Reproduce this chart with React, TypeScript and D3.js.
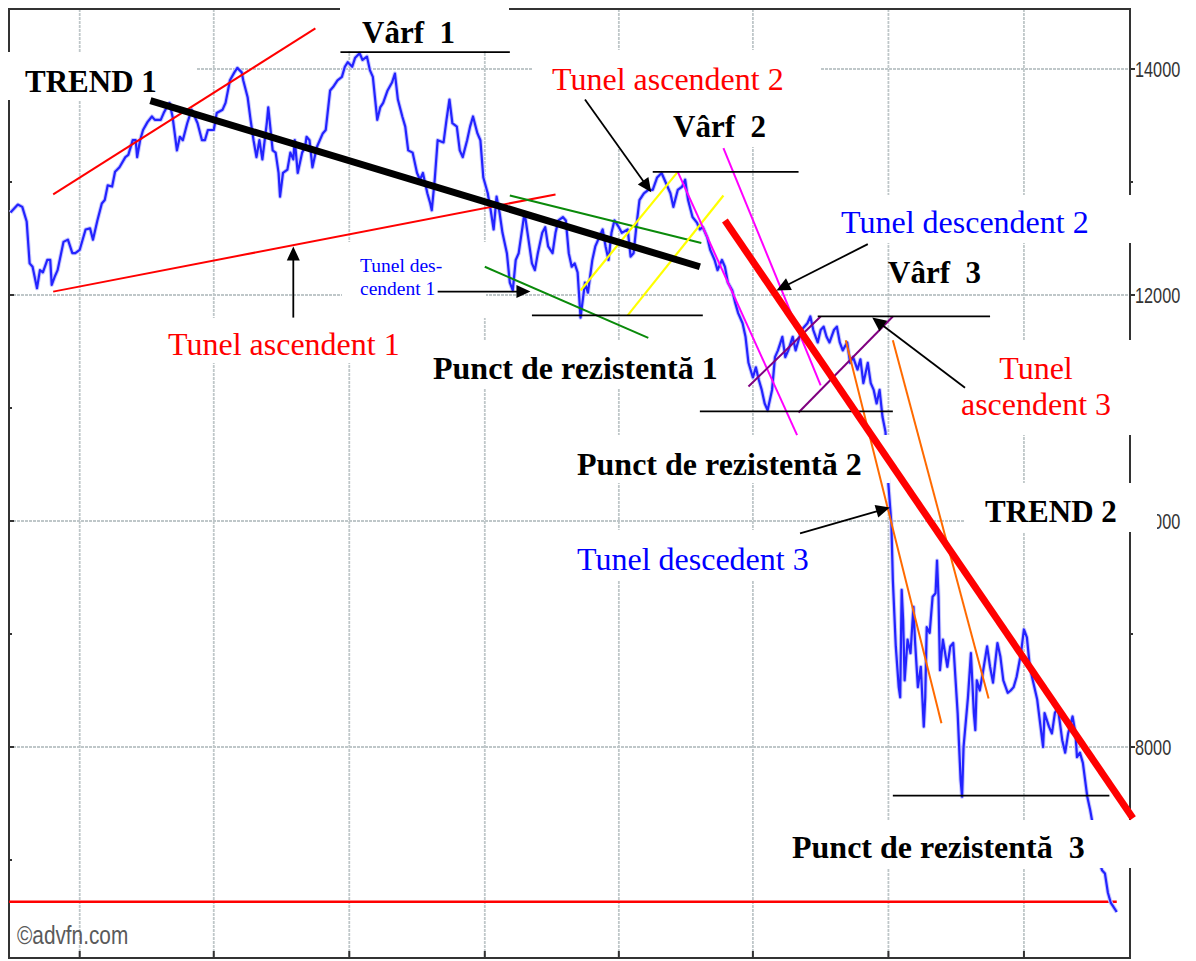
import React from 'react';
import * as d3 from 'd3';

// ---------- DATA ----------
const START = Date.UTC(2007, 1, 12);
const END = Date.UTC(2009, 2, 14);

// [day offset from START, index close]
const closes: [number, number][] = [
  [1,12730],[6,12800],[9,12780],[12,12650],[14,12280],[16,12250],[19,12060],[21,12220],[23,12200],[26,12310],
  [28,12310],[29,12090],[31,12160],[33,12220],[37,12470],[40,12490],[43,12370],[45,12370],[48,12400],[52,12580],
  [55,12590],[57,12490],[60,12660],[63,12810],[65,12840],[67,12970],[70,12960],[72,13090],[75,13130],[79,13220],
  [81,13240],[84,13370],[86,13370],[87,13220],[89,13370],[91,13460],[94,13530],[97,13580],[99,13550],[103,13550],
  [105,13610],[107,13660],[109,13700],[111,13580],[114,13280],[116,13400],[118,13370],[121,13520],[124,13640],[128,13520],
  [131,13370],[133,13370],[135,13460],[139,13460],[141,13610],[145,13640],[147,13700],[150,13900],[153,13970],[155,14010],
  [158,13970],[159,13900],[162,13750],[164,13550],[166,13370],[168,13220],[170,13370],[172,13200],[175,13520],[176,13660],
  [179,13280],[181,13260],[183,13080],[184,12870],[186,13080],[189,13110],[191,13260],[193,13200],[194,13370],[196,13080],
  [199,13260],[201,13310],[202,13400],[204,13370],[206,13130],[209,13310],[213,13430],[215,13460],[218,13810],[220,13840],
  [223,13900],[226,13930],[228,14020],[230,14060],[233,14020],[235,14100],[238,14140],[240,14080],[243,14110],[245,13990],
  [247,13930],[250,13550],[252,13660],[254,13700],[257,13810],[260,13880],[262,13960],[264,13730],[267,13580],[269,13490],
  [271,13280],[274,13260],[277,13080],[279,13020],[281,13080],[284,12900],[286,12810],[287,12750],[289,13020],[291,13370],
  [295,13350],[297,13550],[299,13730],[301,13520],[304,13490],[306,13280],[308,13220],[311,13370],[313,13490],[315,13580],
  [318,13430],[320,13370],[322,13040],[325,12900],[327,12750],[329,12580],[331,12870],[333,12730],[335,12550],[338,12370],
  [340,12110],[342,12040],[344,12310],[346,12370],[348,12550],[350,12730],[352,12550],[355,12280],[357,12220],[359,12370],
  [362,12550],[364,12600],[366,12430],[369,12370],[371,12550],[373,12660],[376,12690],[378,12660],[380,12370],[382,12250],
  [384,12280],[386,12200],[388,11800],[391,12110],[393,12020],[396,12310],[398,12430],[400,12490],[403,12580],[405,12430],
  [407,12310],[409,12550],[411,12660],[414,12600],[416,12550],[420,12580],[422,12340],[424,12370],[426,12620],[428,12840],
  [431,12900],[434,12930],[437,12930],[440,13040],[443,13080],[447,12960],[449,12900],[451,12780],[454,12930],[457,12960],
  [459,13020],[461,12840],[464,12690],[467,12640],[469,12580],[471,12600],[474,12510],[476,12400],[479,12310],[481,12220],
  [484,12310],[486,12250],[488,12110],[491,12040],[493,11930],[495,11840],[498,11750],[500,11630],[502,11400],[505,11270],
  [507,11360],[509,11250],[511,11160],[513,11040],[515,10980],[518,11160],[520,11450],[522,11510],[525,11630],[527,11450],
  [529,11510],[532,11630],[534,11510],[536,11600],[538,11690],[542,11750],[544,11810],[546,11690],[549,11580],[551,11690],
  [553,11720],[555,11630],[557,11580],[560,11690],[562,11720],[564,11580],[566,11510],[569,11580],[571,11400],[573,11450],
  [576,11340],[578,11430],[580,11220],[583,11400],[585,11220],[587,11160],[589,11040],[591,11160],[593,10920],[595,10790],
  [596,10540],[597,10320],[599,9980],[600,9480],[602,8890],[604,8530],[605,8440],[606,9390],[607,9120],[608,8590],
  [610,8950],[612,8830],[614,9240],[615,8950],[617,8530],[619,8710],[621,8180],[622,8440],[623,9060],[625,9010],
  [627,9330],[629,9360],[630,9650],[631,9330],[632,8680],[634,8950],[637,8710],[639,8890],[641,8920],[644,8300],
  [646,7710],[647,7560],[648,8000],[651,8440],[653,8830],[655,8300],[656,8150],[657,8590],[659,8500],[661,8650],
  [664,8890],[666,8710],[668,8570],[671,8920],[673,8800],[675,8590],[678,8480],[680,8500],[682,8530],[684,8620],
  [687,8830],[689,9040],[691,8970],[693,8710],[695,8590],[698,8420],[700,8210],[702,8000],[703,8300],[706,8180],
  [708,8120],[710,8300],[712,8350],[715,8060],[717,7950],[719,8120],[722,8270],[724,8120],[725,7910],[727,7950],
  [729,7860],[732,7560],[734,7440],[737,7220],[739,7040],[742,6910],[744,6880],[746,6710],[748,6620],[750,6580],
  [752,6540],
];

const yMajorTicks = [8000, 10000, 12000, 14000];
const yMinorTicks = [7000, 9000, 11000, 13000];
const floorLevel = 6630;
const floorSpan: [number, number] = [0, 752];

type P = [number, number];
const trend1: [P, P] = [[96, 13720], [469, 12250]];
const trend2: [P, P] = [[486, 12660], [763, 7370]];
const ascChannel1: [P, P][] = [[[30, 12890], [208, 14360]], [[30, 12030], [371, 12890]]];
const descChannel1: [P, P][] = [[[340, 12880], [470, 12460]], [[323, 12250], [434, 11620]]];
const ascChannel2: [P, P][] = [[[388, 12040], [454, 13090]], [[420, 11820], [485, 12880]]];
const descChannel2: [P, P][] = [[[454, 13090], [535, 10760]], [[485, 13300], [551, 11200]]];
const ascChannel3: [P, P][] = [[[502, 11190], [551, 11810]], [[536, 10960], [600, 11810]]];
const descChannel3: [P, P][] = [[[568, 11600], [633, 8210]], [[600, 11600], [665, 8430]]];
// [startDay, endDay, level]
const peakLevels: [number, number, number][] = [[225, 340, 14150], [437, 536, 13090], [549, 666, 11810]];
const supportLevels: [number, number, number][] = [[355, 471, 11820], [469, 600, 10970], [600, 747, 7570]];
// [from, to]
const pointers: [P, P][] = [
  [[193, 11800], [193, 12430]],
  [[291, 12030], [354, 12030]],
  [[391, 13730], [436, 12910]],
  [[583, 12450], [521, 12040]],
  [[649, 11180], [586, 11800]],
  [[537, 9890], [598, 10120]],
];

// ---------- CHART ----------
const serif = '"Liberation Serif", "Times New Roman", serif';
const sans = '"Liberation Sans", Arial, sans-serif';

export default function App() {
  const x = d3.scaleUtc().domain([new Date(START), new Date(END)]).range([9, 1130]);
  const y = d3.scaleLinear().domain([8000, 14000]).range([747, 69]);
  const X = (d: number) => x(d3.utcDay.offset(new Date(START), d));
  const line = d3.line<P>().x(p => X(p[0])).y(p => y(p[1]));
  const xTicks = x.ticks(d3.utcMonth.every(3) as any);

  const L = 9, R = 1130, T = 9, B = 958;

  const seg = (s: [P, P], color: string, w: number, key: string) => (
    <line key={key} x1={X(s[0][0])} y1={y(s[0][1])} x2={X(s[1][0])} y2={y(s[1][1])}
      stroke={color} strokeWidth={w} />
  );

  const arrow = (s: [P, P], key: string) => {
    const x1 = X(s[0][0]), y1 = y(s[0][1]), x2 = X(s[1][0]), y2 = y(s[1][1]);
    const dx = x2 - x1, dy = y2 - y1, len = Math.hypot(dx, dy);
    const ux = dx / len, uy = dy / len;
    const hl = 14, hw = 6.5;
    const bx = x2 - ux * hl, by = y2 - uy * hl;
    const pts = [[x2, y2], [bx - uy * hw, by + ux * hw], [bx + uy * hw, by - ux * hw]]
      .map(p => p.join(',')).join(' ');
    return (
      <g key={key}>
        <line x1={x1} y1={y1} x2={bx + ux * 2} y2={by + uy * 2} stroke="#000" strokeWidth={1.8} />
        <polygon points={pts} fill="#000" />
      </g>
    );
  };

  const masks: [number, number, number, number][] = [
    [0, 52, 197, 48],
    [340, 0, 169, 51],
    [533, 50, 288, 97],
    [835, 195, 300, 48],
    [342, 242, 144, 76],
    [160, 318, 245, 45],
    [425, 340, 300, 48],
    [570, 435, 320, 48],
    [570, 530, 245, 50],
    [955, 340, 180, 95],
    [965, 483, 192, 49],
    [785, 820, 350, 48],
  ];

  const gridColor = '#bfc7c9';

  return (
    <svg width={1196} height={961} style={{ position: 'absolute', left: 0, top: 0, background: '#fff' }}>
      <rect x={0} y={0} width={1196} height={961} fill="#fff" />
      {/* grid */}
      {xTicks.map((t, i) => (
        <line key={'gx' + i} x1={x(t)} x2={x(t)} y1={T} y2={B} stroke={gridColor} strokeWidth={1.8} strokeDasharray="3 1" />
      ))}
      {yMajorTicks.map((v, i) => (
        <line key={'gy' + i} x1={L} x2={R} y1={y(v)} y2={y(v)} stroke={gridColor} strokeWidth={1.8} strokeDasharray="3 1" />
      ))}
      {/* frame */}
      <rect x={L} y={T} width={R - L} height={B - T} fill="none" stroke="#333" strokeWidth={2} />
      {xTicks.map((t, i) => (
        <line key={'bt' + i} x1={x(t)} x2={x(t)} y1={B - 7} y2={B} stroke="#333" strokeWidth={2} />
      ))}
      {yMajorTicks.map((v, i) => (
        <g key={'yt' + i}>
          <line x1={L} x2={L + 5} y1={y(v)} y2={y(v)} stroke="#333" strokeWidth={2} />
          <line x1={R} x2={R + 5} y1={y(v)} y2={y(v)} stroke="#333" strokeWidth={2} />
        </g>
      ))}
      {yMinorTicks.map((v, i) => (
        <g key={'ym' + i}>
          <line x1={L} x2={L + 3} y1={y(v)} y2={y(v)} stroke="#333" strokeWidth={2} />
          <line x1={R} x2={R + 3} y1={y(v)} y2={y(v)} stroke="#333" strokeWidth={2} />
        </g>
      ))}
      {yMajorTicks.map((v, i) => (
        <g key={'yl' + i} transform={`translate(${R + 5},${y(v) + 8}) scale(0.74,1)`}>
          <text x={0} y={0} fontFamily={sans} fontSize={22} fill="#333">{String(v)}</text>
        </g>
      ))}
      <g transform={`translate(17,944) scale(0.8,1)`}>
        <text x={0} y={0} fontFamily={sans} fontSize={26} fill="#5a5a5a">©advfn.com</text>
      </g>
      {/* floor level */}
      <line x1={X(floorSpan[0])} x2={X(floorSpan[1])} y1={y(floorLevel)} y2={y(floorLevel)} stroke="#ff0000" strokeWidth={2.5} />
      {/* price */}
      <path d={line(closes) || ''} fill="none" stroke="#c8c8ff" strokeWidth={4.2} strokeLinejoin="round" />
      <path d={line(closes) || ''} fill="none" stroke="#2323ff" strokeWidth={2.2} strokeLinejoin="round" />
      {/* label masks */}
      {masks.map((m, i) => <rect key={'m' + i} x={m[0]} y={m[1]} width={m[2]} height={m[3]} fill="#fff" />)}
      {/* annotations */}
      {ascChannel1.map((s, i) => seg(s, '#ff0000', 2, 'a1' + i))}
      {descChannel1.map((s, i) => seg(s, '#0a8a0a', 2, 'd1' + i))}
      {ascChannel2.map((s, i) => seg(s, '#ffff00', 2.2, 'a2' + i))}
      {descChannel2.map((s, i) => seg(s, '#ff00ff', 2, 'd2' + i))}
      {ascChannel3.map((s, i) => seg(s, '#800080', 2, 'a3' + i))}
      {descChannel3.map((s, i) => seg(s, '#ff6a00', 2, 'd3' + i))}
      {peakLevels.map((p, i) => (
        <line key={'pk' + i} x1={X(p[0])} x2={X(p[1])} y1={y(p[2])} y2={y(p[2])} stroke="#000" strokeWidth={1.8} />
      ))}
      {supportLevels.map((p, i) => (
        <line key={'sp' + i} x1={X(p[0])} x2={X(p[1])} y1={y(p[2])} y2={y(p[2])} stroke="#000" strokeWidth={1.8} />
      ))}
      {seg(trend1, '#000', 7, 't1')}
      {seg(trend2, '#ff0000', 7, 't2')}
      {pointers.map((s, i) => arrow(s, 'ar' + i))}
      {/* texts */}
      <g fontFamily={serif}>
        <text x={25} y={92} fontSize={31} fontWeight="bold">TREND 1</text>
        <text x={362} y={43} fontSize={31} fontWeight="bold" xmlSpace="preserve">Vârf  1</text>
        <text x={552} y={90} fontSize={32} fill="#ff0000">Tunel ascendent 2</text>
        <text x={673} y={137} fontSize={31} fontWeight="bold" xmlSpace="preserve">Vârf  2</text>
        <text x={841} y={233} fontSize={32} fill="#0000ff">Tunel descendent 2</text>
        <text x={888} y={283} fontSize={31} fontWeight="bold" xmlSpace="preserve">Vârf  3</text>
        <text x={360} y={272} fontSize={19.5} fill="#0000ff">Tunel des-</text>
        <text x={360} y={295} fontSize={19.5} fill="#0000ff">cendent 1</text>
        <text x={168} y={355} fontSize={32} fill="#ff0000">Tunel ascendent 1</text>
        <text x={433} y={379} fontSize={32} fontWeight="bold">Punct de rezistentă 1</text>
        <text x={577} y={475} fontSize={32} fontWeight="bold">Punct de rezistentă 2</text>
        <text x={577} y={570} fontSize={32} fill="#0000ff">Tunel descedent 3</text>
        <text x={1036} y={379} fontSize={32} fill="#ff0000" textAnchor="middle">Tunel</text>
        <text x={1036} y={415} fontSize={32} fill="#ff0000" textAnchor="middle">ascendent 3</text>
        <text x={985} y={522} fontSize={31} fontWeight="bold">TREND 2</text>
        <text x={792} y={858} fontSize={32} fontWeight="bold" xmlSpace="preserve">Punct de rezistentă  3</text>
      </g>
    </svg>
  );
}
